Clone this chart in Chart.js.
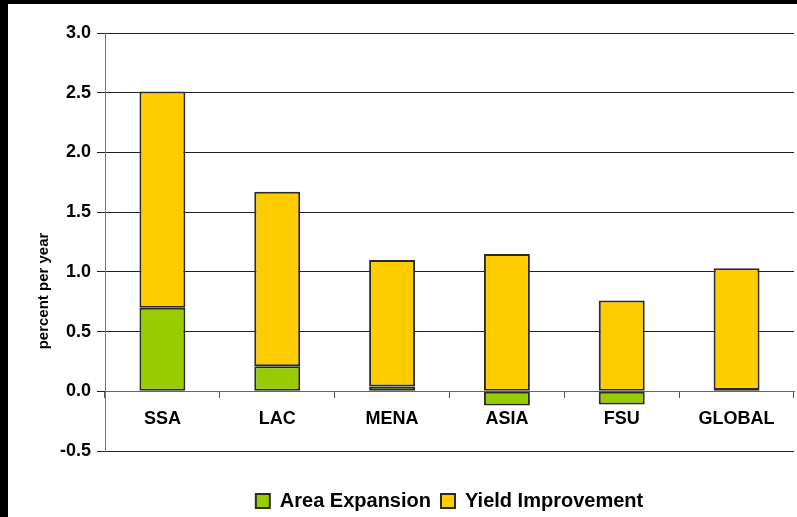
<!DOCTYPE html>
<html>
<head>
<meta charset="utf-8">
<script src="https://cdn.jsdelivr.net/npm/chart.js@4.4.0/dist/chart.umd.min.js"></script>
<style>
  html, body { margin: 0; padding: 0; background: #000; overflow: hidden; width: 797px; height: 517px; }
  #wrap { position: absolute; left: 8px; top: 4px; width: 789px; height: 517px; background: #fff; }
</style>
</head>
<body>
<div id="wrap"><canvas id="chart" width="789" height="517"></canvas></div>
<script>
// Sources of crop production growth by region
const regions = ['SSA', 'LAC', 'MENA', 'ASIA', 'FSU', 'GLOBAL'];
const areaExpansion = [0.70, 0.21, 0.04, -0.12, -0.11, 0.01];
const yieldImprovement = [1.81, 1.46, 1.06, 1.15, 0.76, 1.02];
const yRange = [-0.5, 3.0];
const yStep = 0.5;

const FONT = '"Liberation Sans", Arial, sans-serif';

// rotated axis title, sits a bit below the middle of the axis
const axisTitle = {
  id: 'axisTitle',
  afterDraw(chart) {
    const ctx = chart.ctx;
    ctx.save();
    ctx.translate(36, 287);
    ctx.rotate(-Math.PI / 2);
    ctx.font = 'bold 15px ' + FONT;
    ctx.fillStyle = '#000';
    ctx.textAlign = 'center';
    ctx.textBaseline = 'middle';
    ctx.fillText('percent per year', 0, 0);
    ctx.restore();
  }
};

const ctx = document.getElementById('chart').getContext('2d');
new Chart(ctx, {
  type: 'bar',
  data: {
    labels: regions,
    datasets: [
      {
        label: 'Area Expansion',
        data: areaExpansion,
        backgroundColor: '#99CC00',
        borderColor: '#2a2a2a',
        borderWidth: 2,
        borderSkipped: false
      },
      {
        label: 'Yield Improvement',
        data: yieldImprovement,
        backgroundColor: '#FFCC00',
        borderColor: '#2a2a2a',
        borderWidth: 2,
        borderSkipped: false
      }
    ]
  },
  options: {
    responsive: false,
    animation: false,
    devicePixelRatio: 1,
    barPercentage: 0.4,
    categoryPercentage: 1.0,
    layout: { padding: { top: 29, right: 3, left: 0, bottom: 0 } },
    scales: {
      x: {
        stacked: true,
        position: { y: 0 },
        grid: { drawOnChartArea: false, drawTicks: true, tickLength: 6, color: '#555', offset: true },
        border: { color: '#666', width: 1 },
        ticks: { color: '#000', padding: 11, font: { family: FONT, size: 18, weight: 'bold' } }
      },
      y: {
        stacked: true,
        min: yRange[0],
        max: yRange[1],
        ticks: {
          stepSize: yStep,
          color: '#000',
          padding: 6,
          font: { family: FONT, size: 18, weight: 'bold' },
          callback: v => v.toFixed(1)
        },
        grid: { color: '#222', tickColor: '#222', tickLength: 8 },
        border: { color: '#777', width: 1 },
        afterFit: s => { s.width = 97; }
      }
    },
    plugins: {
      tooltip: { enabled: false },
      legend: {
        position: 'bottom',
        fullSize: false,
        title: { display: true, text: '', padding: { top: 18, bottom: 0 }, font: { size: 10 } },
        labels: {
          boxWidth: 14,
          boxHeight: 14,
          padding: 10,
          color: '#000',
          font: { family: FONT, size: 20, weight: 'bold' }
        }
      }
    }
  },
  plugins: [axisTitle]
});
</script>
</body>
</html>
